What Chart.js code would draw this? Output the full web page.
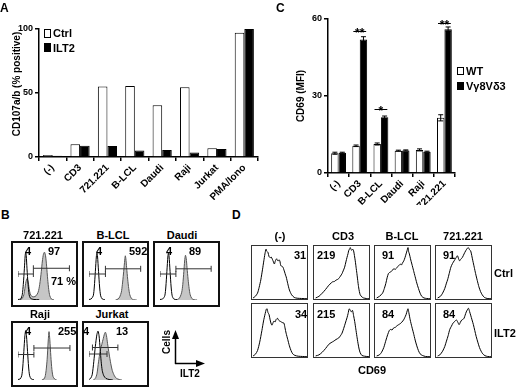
<!DOCTYPE html>
<html>
<head>
<meta charset="utf-8">
<script src="https://cdn.jsdelivr.net/npm/chart.js@4.4.1/dist/chart.umd.min.js"></script>
<style>
body{margin:0;background:#fff}
#fig{position:relative;width:520px;height:389px;overflow:hidden;font-family:"Liberation Sans",Arial,Helvetica,sans-serif;font-weight:bold;color:#000}
canvas{position:absolute;display:block}
.t{position:absolute;font-size:11px;line-height:11px;white-space:nowrap}
.c{transform:translateX(-50%)}
.big{font-size:12px;line-height:12px}
.box{position:absolute;box-sizing:border-box;border:2px solid #111}
.box canvas{position:static}
.dbox{border:1px solid #333}
.sw{position:absolute;box-sizing:border-box;border:1px solid #000;background:#fff}
</style>
</head>
<body>
<div id="fig">
  <canvas id="chartA" width="260" height="200" style="left:0;top:0"></canvas>
  <canvas id="chartC" width="260" height="205" style="left:260px;top:0"></canvas>

  <!-- panel letters -->
  <div class="t big" style="left:0;top:2px">A</div>
  <div class="t big" style="left:276px;top:2px">C</div>
  <div class="t big" style="left:1px;top:209px">B</div>
  <div class="t big" style="left:232px;top:209px">D</div>

  <!-- panel A axis title and legend -->
  <div class="t" style="font-size:10px;line-height:10px;left:17px;top:84px;transform:translate(-50%,-50%) rotate(-90deg)">CD107a/b (% positive)</div>
  <div class="sw" style="left:44px;top:29px;width:7px;height:9px"></div>
  <div class="t" style="left:53px;top:28px">Ctrl</div>
  <div class="sw" style="left:44px;top:43px;width:7px;height:9px;background:#000"></div>
  <div class="t" style="left:53px;top:43px">ILT2</div>

  <!-- panel C legend -->
  <div class="sw" style="left:457px;top:67px;width:7px;height:8px"></div>
  <div class="t" style="left:466px;top:66px">WT</div>
  <div class="sw" style="left:457px;top:82px;width:7px;height:8px;background:#000"></div>
  <div class="t" style="left:466px;top:81px">Vγ8Vδ3</div>

  <!-- panel B -->
  <div class="t c" style="left:43px;top:230px">721.221</div>
  <div class="t c" style="left:113px;top:230px">B-LCL</div>
  <div class="t c" style="left:182px;top:230px">Daudi</div>
  <div class="t c" style="left:40px;top:309px">Raji</div>
  <div class="t c" style="left:112px;top:309px">Jurkat</div>
  <div class="box" style="left:11px;top:241px;width:67px;height:66px"><canvas id="b721" width="63" height="62"></canvas></div>
  <div class="box" style="left:82px;top:241px;width:67px;height:66px"><canvas id="bBlcl" width="63" height="62"></canvas></div>
  <div class="box" style="left:153px;top:241px;width:67px;height:66px"><canvas id="bDaudi" width="63" height="62"></canvas></div>
  <div class="box" style="left:11px;top:321px;width:67px;height:66px"><canvas id="bRaji" width="63" height="62"></canvas></div>
  <div class="box" style="left:82px;top:321px;width:67px;height:66px"><canvas id="bJurkat" width="63" height="62"></canvas></div>
  <div class="t" style="left:25px;top:246px">4</div>
  <div class="t" style="left:48px;top:246px">97</div>
  <div class="t" style="left:51px;top:276px">71 %</div>
  <div class="t" style="left:96px;top:246px">4</div>
  <div class="t" style="left:129px;top:246px">592</div>
  <div class="t" style="left:166px;top:246px">4</div>
  <div class="t" style="left:189px;top:246px">89</div>
  <div class="t" style="left:25px;top:326px">4</div>
  <div class="t" style="left:58px;top:326px">255</div>
  <div class="t" style="left:83px;top:326px">4</div>
  <div class="t" style="left:116px;top:326px">13</div>
  <svg style="position:absolute;left:0;top:0" width="520" height="389">
    <line x1="175.5" y1="337" x2="175.5" y2="364" stroke="#000" stroke-width="1.5"/>
    <polygon points="175.5,330 172,339 179,339" fill="#000"/>
    <line x1="175" y1="363.5" x2="198" y2="363.5" stroke="#000" stroke-width="1.5"/>
    <polygon points="205,363.5 196,360 196,367" fill="#000"/>
  </svg>
  <div class="t" style="font-size:10px;line-height:10px;left:167px;top:342px;transform:translate(-50%,-50%) rotate(-90deg)">Cells</div>
  <div class="t" style="font-size:10px;line-height:10px;left:180px;top:369px">ILT2</div>

  <!-- panel D -->
  <div class="t c" style="left:280px;top:231px">(-)</div>
  <div class="t c" style="left:343px;top:231px">CD3</div>
  <div class="t c" style="left:402px;top:231px">B-LCL</div>
  <div class="t c" style="left:463px;top:231px">721.221</div>
  <div class="box dbox" style="left:251px;top:245px;width:57px;height:55px"><canvas id="dNeg1" width="55" height="53"></canvas></div>
  <div class="box dbox" style="left:313px;top:245px;width:57px;height:55px"><canvas id="dCd31" width="55" height="53"></canvas></div>
  <div class="box dbox" style="left:374px;top:245px;width:57px;height:55px"><canvas id="dBlcl1" width="55" height="53"></canvas></div>
  <div class="box dbox" style="left:435px;top:245px;width:57px;height:55px"><canvas id="d7211" width="55" height="53"></canvas></div>
  <div class="box dbox" style="left:251px;top:303px;width:57px;height:55px"><canvas id="dNeg2" width="55" height="53"></canvas></div>
  <div class="box dbox" style="left:313px;top:303px;width:57px;height:55px"><canvas id="dCd32" width="55" height="53"></canvas></div>
  <div class="box dbox" style="left:374px;top:303px;width:57px;height:55px"><canvas id="dBlcl2" width="55" height="53"></canvas></div>
  <div class="box dbox" style="left:435px;top:303px;width:57px;height:55px"><canvas id="d7212" width="55" height="53"></canvas></div>
  <div class="t" style="left:294px;top:250px">31</div>
  <div class="t" style="left:317px;top:250px">219</div>
  <div class="t" style="left:382px;top:250px">91</div>
  <div class="t" style="left:443px;top:250px">91</div>
  <div class="t" style="left:295px;top:309px">34</div>
  <div class="t" style="left:317px;top:309px">215</div>
  <div class="t" style="left:382px;top:309px">84</div>
  <div class="t" style="left:443px;top:309px">84</div>
  <div class="t" style="left:494px;top:268px">Ctrl</div>
  <div class="t" style="left:494px;top:328px">ILT2</div>
  <div class="t c" style="left:372px;top:365px">CD69</div>
</div>

<script>
// Panel A: CD107a/b degranulation
const catsA = ['(-)', 'CD3', '721.221', 'B-LCL', 'Daudi', 'Raji', 'Jurkat', 'PMA/Iono']
const ctrlA = [1.5, 10, 55, 55.5, 40.5, 54.5, 6.8, 97]
const ilt2A = [1, 8.8, 8.6, 5, 5.5, 3.6, 6.2, 100]
const ticksA = [0, 50, 100]

// Panel C: CD69 MFI
const catsC = ['(-)', 'CD3', 'B-LCL', 'Daudi', 'Raji', '721.221']
const wtC = [7.7, 10.6, 11.3, 8.7, 9, 21.5]
const wtErr = [0.4, 0.3, 0.4, 0.2, 0.4, 1.2]
const vgC = [7.9, 52, 21.7, 8.8, 8.3, 56]
const vgErr = [0.2, 1.1, 0.5, 0.2, 0.2, 0.9]
const ticksC = [0, 30, 60]
const sigIdx = [1, 2, 5]
const sigLevel = [55.2, 24.8, 58.5]
const sigText = ['**', '*', '**']

// Panel B: ILT2 staining histograms (x = channel 0-100, y = % of max)
const b721Iso = [[0,1],[5,2],[8,10],[10,30],[12,60],[13.5,85],[14.5,92],[15.5,86],[17,60],[19,30],[21,10],[23,4],[26,2],[30,1],[40,0.5]]
const b721Ilt2 = [[3,0],[8,3],[11,10],[13,22],[15,35],[17,41],[19,36],[21,22],[23,12],[26,7],[30,6],[34,8],[38,15],[41,30],[44,55],[46,75],[48,88],[50,92],[52,85],[54,65],[56,40],[58,20],[60,8],[63,2],[68,0]]
const b721Gates = [[0, 29, 50], [29, 97, 61]]
const bBlclIso = [[0,1],[4,2],[8,8],[10,25],[12,55],[14,85],[15,90],[16,85],[18,55],[20,25],[22,8],[25,2],[30,0.5]]
const bBlclIlt2 = [[50,0],[55,2],[58,6],[61,15],[63,30],[65,50],[67,72],[68.5,85],[69.5,80],[71,62],[73,40],[75,22],[77,10],[80,3],[84,0.5],[90,0]]
const bBlclGates = [[0, 31, 50], [31, 97.5, 60]]
const bDaudiIso = [[0,1],[5,2],[9,8],[11,25],[13,55],[15,85],[16,90],[17,85],[19,55],[21,25],[23,8],[26,2],[32,0.5]]
const bDaudiIlt2 = [[30,0],[35,2],[38,6],[41,15],[43,30],[45,55],[46.5,75],[48,86],[49.5,80],[51,62],[53,40],[55,22],[57,10],[60,3],[64,0.5],[70,0]]
const bDaudiGates = [[0, 30, 50], [30, 96.5, 60]]
const bRajiIso = [[0,1],[4,2],[7,8],[9,25],[11,55],[13,85],[14.5,95],[16,85],[18,55],[20,25],[22,8],[25,2],[30,0.5]]
const bRajiIlt2 = [[45,0],[49,2],[51,6],[53,18],[55,40],[57,75],[58.5,93],[60,78],[62,45],[64,20],[66,7],[69,2],[73,0]]
const bRajiGates = [[0, 30, 49], [30, 98, 61.5]]
const bJurkatIso = [[0,1],[3,3],[6,10],[9,35],[12,65],[15,88],[17,94],[19,85],[21,60],[23,35],[25,18],[28,8],[32,3],[38,1],[45,0]]
const bJurkatIlt2 = [[8,0],[12,3],[15,12],[18,35],[21,55],[24,68],[27,80],[29,88],[31,92],[33,85],[35,70],[38,50],[41,32],[44,18],[48,8],[52,3],[57,1],[62,0]]
const bJurkatGates = [[0, 34, 50], [6.5, 54.5, 62.5]]

// Panel D: CD69 histograms, Ctrl row and ILT2 row
const dNegCtrl = [[2,2],[6,5],[10,11],[13,22],[16,36],[19,55],[21.5,72],[23.5,85],[25.5,94],[27,90],[29,88],[31,80],[33,78],[35,79],[37,75],[39,70],[40.7,66],[42.5,72],[44.8,76],[46,73],[47.7,72],[49,74],[50.6,72],[52.3,63],[54,62],[56.4,60],[58,55],[59.3,51],[61,45],[62.2,41.7],[65,29],[68,17],[72,8],[76.7,3],[82,1.5],[90,1],[100,0.5]]
const dNegIlt2 = [[2,2],[6,5],[10,12],[14,28],[18,50],[21,68],[24,82],[26,90],[27.5,91],[29,84],[31,80],[33,70],[35,62],[36.5,60],[38,64],[40,68],[42,66],[44,71],[46.5,73],[48,70],[50,68],[52,67],[55,65],[58,64],[60,55],[62,45],[65,33],[68,21],[71,12],[74,6],[78,3],[84,1.5],[92,1],[100,0.5]]
const dCd3Ctrl = [[3,2],[9,5],[15,11],[21,18],[27,26],[31,30],[34,32.5],[37,33],[40,35.6],[43,37],[45,38.6],[48,43],[51,48],[53,53],[55.7,60],[58,70],[60,78.5],[62,86],[63,91],[65,95],[66,97],[67.5,93],[69,92],[70.5,94],[72,91],[73.5,82],[75,72],[76.5,60],[78,48],[79.5,35],[81,23],[82.5,14],[84,8],[87,4],[90,2],[95,1],[100,0.5]]
const dCd3Ilt2 = [[3,2],[9,4],[15,9],[21,16],[27,24],[31,27],[36,30],[40,33],[45,36],[48,40],[51,45],[54,54],[57,64],[60,74],[62,82],[64,91],[66,88],[68,85],[70,88],[72,78],[74,67],[76,53],[78,39],[80,26],[82,15],[84,8],[87,3],[92,1.5],[100,0.5]]
const dBlclCtrl = [[3,2],[8,5],[13.7,11],[17,20],[19.6,29],[22,40],[24.4,48],[26.5,50],[28.6,51],[31,54],[34.5,57],[37,56],[40.5,60],[43,63],[46.4,66],[48,64],[50,68],[52.4,72],[54.5,78],[56.5,85],[58.5,92],[60,97],[61,90],[62.5,85],[64.5,76],[67,66],[70,54],[73,42],[76,30],[79,20],[82,11],[85,5],[89,2],[94,1],[100,0.5]]
const dBlclIlt2 = [[3,2],[8,4],[12,9],[16,18],[20,32],[23,42],[26,50],[28,52],[31,51],[34,55],[37,56],[40,59],[43,61],[46,63],[49,66],[52,70],[54,74],[56.5,80],[58.5,87],[60,91],[61.5,84],[64,70],[67,57],[70,45],[73,32],[76,21],[79,12],[82,6],[86,3],[92,1],[100,0.5]]
const d721Ctrl = [[3,2],[8,5],[12,11],[16,20],[19,30],[21,36],[24,48],[27,60],[30,67],[33,72],[36,77],[39,81.6],[41,76],[43,72],[45,75],[48,78.5],[51,85],[54,91],[56.5,95],[58.7,97],[61,93],[63,91],[65,82],[67,72],[69.5,60],[72,48],[75,35],[78,23],[81,14],[84,8],[88,3],[93,1],[100,0.5]]
const d721Ilt2 = [[3,2],[7,4],[12,11],[16,20],[19,30],[22,40],[25,52],[28,58],[31,64],[34,67],[37,70],[39.5,66],[42,61],[44.5,66],[47,70],[49,71],[51,73],[53,79],[55,85],[57,89],[59,92],[61,86],[63,79],[65.5,70],[68,61],[70.5,50],[73,39],[76,28],[79,18],[82,11],[85,6],[89,2.5],[94,1],[100,0.5]]

Chart.defaults.font.family = '"Liberation Sans", Arial, Helvetica, sans-serif'
Chart.defaults.font.weight = 'bold'
Chart.defaults.color = '#000'
Chart.defaults.animation = false
Chart.defaults.responsive = false
Chart.defaults.plugins.legend.display = false
Chart.defaults.plugins.tooltip.enabled = false

function axisX(height) {
    return {
        grid: { drawOnChartArea: false, color: '#000', lineWidth: 1.5, tickLength: 4 },
        border: { color: '#000', width: 1.5 },
        ticks: { autoSkip: false, minRotation: 45, maxRotation: 45, padding: 1, font: { size: 10 } },
        afterFit: (s) => { s.height = height }
    }
}

function axisY(max, ticks, width, title, titlePad) {
    return {
        min: 0,
        max: max,
        grid: { drawOnChartArea: false, color: '#000', lineWidth: 1.5, tickLength: 4 },
        border: { color: '#000', width: 1.5 },
        ticks: { stepSize: ticks[1] - ticks[0], padding: 2, color: '#000', font: { size: 9 } },
        title: { display: !!title, text: title, color: '#000', font: { size: 10 }, padding: { top: titlePad, bottom: 0 } },
        afterFit: (s) => { s.width = width }
    }
}

new Chart(document.getElementById('chartA'), {
    type: 'bar',
    data: {
        labels: catsA,
        datasets: [
            { label: 'Ctrl', data: ctrlA, backgroundColor: '#fff', borderColor: '#000', borderWidth: 1 },
            { label: 'ILT2', data: ilt2A, backgroundColor: '#000', borderColor: '#000', borderWidth: 1 }
        ]
    },
    options: {
        layout: { padding: { top: 29, right: 2, left: 0, bottom: 0 } },
        datasets: { bar: { categoryPercentage: 0.7, barPercentage: 1 } },
        scales: {
            x: axisX(43),
            y: axisY(ticksA[2], ticksA, 39, '', 0)
        }
    }
})

// error bars and significance marks for panel C
const errorBars = {
    id: 'errorBars',
    afterDatasetsDraw(chart) {
        const ctx = chart.ctx
        const y = chart.scales.y
        const errs = [wtErr, vgErr]
        ctx.save()
        ctx.strokeStyle = '#000'
        ctx.lineWidth = 1
        errs.forEach((err, di) => {
            const values = chart.data.datasets[di].data
            chart.getDatasetMeta(di).data.forEach((bar, i) => {
                const top = y.getPixelForValue(values[i] + err[i])
                const bot = y.getPixelForValue(values[i] - err[i])
                ctx.beginPath()
                ctx.moveTo(bar.x, top); ctx.lineTo(bar.x, bot)
                ctx.moveTo(bar.x - 2.5, top); ctx.lineTo(bar.x + 2.5, top)
                ctx.moveTo(bar.x - 2.5, bot); ctx.lineTo(bar.x + 2.5, bot)
                ctx.stroke()
            })
        })
        ctx.font = 'bold 12px "Liberation Sans", Arial, sans-serif'
        ctx.textAlign = 'center'
        ctx.textBaseline = 'alphabetic'
        ctx.fillStyle = '#000'
        sigIdx.forEach((ci, k) => {
            const a = chart.getDatasetMeta(0).data[ci]
            const b = chart.getDatasetMeta(1).data[ci]
            const py = Math.round(y.getPixelForValue(sigLevel[k])) + 0.5
            ctx.beginPath()
            ctx.moveTo(a.x - a.width / 2 + 1, py)
            ctx.lineTo(b.x + b.width / 2 - 1, py)
            ctx.stroke()
            ctx.fillText(sigText[k], (a.x + b.x) / 2, py + 5)
        })
        ctx.restore()
    }
}

new Chart(document.getElementById('chartC'), {
    type: 'bar',
    data: {
        labels: catsC,
        datasets: [
            { label: 'WT', data: wtC, backgroundColor: '#fff', borderColor: '#000', borderWidth: 1 },
            { label: 'Vγ8Vδ3', data: vgC, backgroundColor: '#000', borderColor: '#000', borderWidth: 1 }
        ]
    },
    options: {
        layout: { padding: { top: 19, right: 65, left: 0, bottom: 0 } },
        datasets: { bar: { categoryPercentage: 0.7, barPercentage: 1 } },
        scales: {
            x: axisX(32),
            y: axisY(ticksC[2], ticksC, 68, 'CD69 (MFI)', 35)
        }
    },
    plugins: [errorBars]
})

function histogram(id, curves, gates) {
    const datasets = []
    gates.forEach((g) => {
        datasets.push({
            data: [[g[0], g[2]], [g[1], g[2]]],
            borderColor: '#333', borderWidth: 1,
            pointStyle: 'line', rotation: 90, pointRadius: 3,
            pointBorderColor: '#333', pointBorderWidth: 1, fill: false
        })
    })
    curves.forEach((c) => {
        datasets.push({
            data: c.data,
            borderColor: c.stroke,
            borderWidth: 1,
            backgroundColor: c.fill || 'transparent',
            fill: c.fill ? 'origin' : false,
            pointRadius: 0,
            tension: 0.25
        })
    })
    new Chart(document.getElementById(id), {
        type: 'line',
        data: { datasets },
        options: {
            layout: { padding: 0 },
            scales: {
                x: { type: 'linear', min: 0, max: 100, display: false },
                y: { min: 0, max: 100, display: false }
            }
        }
    })
}

const iso = (d) => ({ data: d, stroke: '#000' })
const stained = (d) => ({ data: d, stroke: '#555', fill: '#c6c6c6' })

histogram('b721', [iso(b721Iso), stained(b721Ilt2)], b721Gates)
histogram('bBlcl', [iso(bBlclIso), stained(bBlclIlt2)], bBlclGates)
histogram('bDaudi', [iso(bDaudiIso), stained(bDaudiIlt2)], bDaudiGates)
histogram('bRaji', [iso(bRajiIso), stained(bRajiIlt2)], bRajiGates)
histogram('bJurkat', [iso(bJurkatIso), stained(bJurkatIlt2)], bJurkatGates)

histogram('dNeg1', [iso(dNegCtrl)], [])
histogram('dCd31', [iso(dCd3Ctrl)], [])
histogram('dBlcl1', [iso(dBlclCtrl)], [])
histogram('d7211', [iso(d721Ctrl)], [])
histogram('dNeg2', [iso(dNegIlt2)], [])
histogram('dCd32', [iso(dCd3Ilt2)], [])
histogram('dBlcl2', [iso(dBlclIlt2)], [])
histogram('d7212', [iso(d721Ilt2)], [])
</script>
</body>
</html>
